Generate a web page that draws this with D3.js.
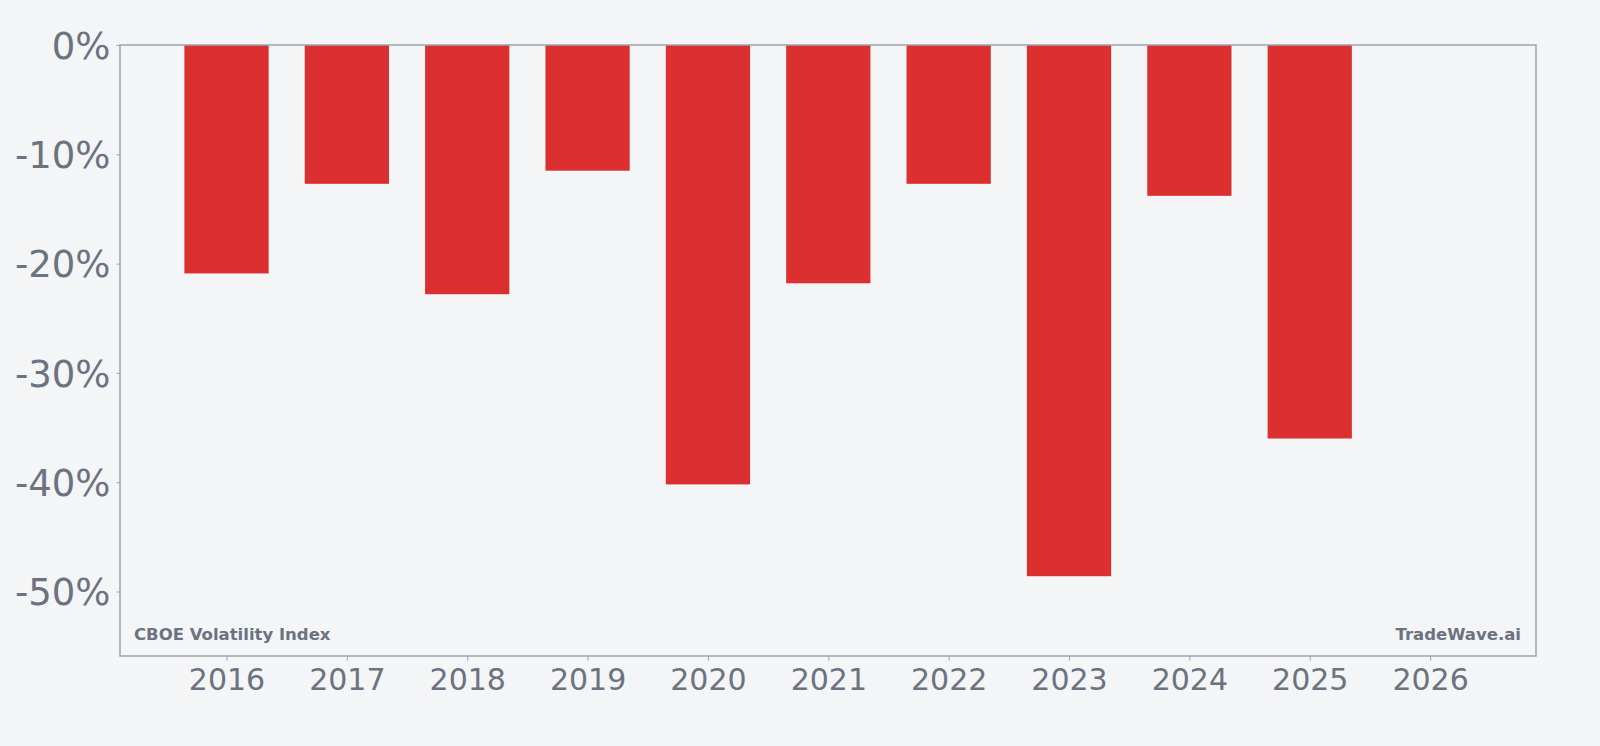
<!DOCTYPE html>
<html>
<head>
<meta charset="utf-8">
<script src="https://cdn.jsdelivr.net/npm/d3@7"></script>
<style>
  body { margin: 0; background: #f4f5f7; }
  svg { display: block; font-family: "DejaVu Sans", sans-serif; }
  .axis text { fill: #6b7280; }
  .axis path, .axis line { stroke: #9ca3af; }
</style>
</head>
<body>
<div class="chartContainer"></div>
<script>
const WIDTH = 1600;
const HEIGHT = 746;
const LEFT = 120, RIGHT = 1536, TOP = 45, BOTTOM = 656;

// yearly values (percent)
var years = [2016, 2017, 2018, 2019, 2020, 2021, 2022, 2023, 2024, 2025];
var values = [-20.9, -12.7, -22.8, -11.5, -40.2, -21.8, -12.7, -48.6, -13.8, -36.0];
var xTicks = [2016, 2017, 2018, 2019, 2020, 2021, 2022, 2023, 2024, 2025, 2026];
var yTicks = [0, -10, -20, -30, -40, -50];

var translate = function(x, y){
  return "translate(" + x + "," + y + ")";
};

var svg = d3.select(".chartContainer")
  .append("svg")
  .attr("width", WIDTH)
  .attr("height", HEIGHT);

svg.append("rect")
  .attr("width", WIDTH).attr("height", HEIGHT)
  .attr("fill", "#f4f5f7");

var xScale = d3.scaleLinear()
  .domain([2015.115, 2026.88])
  .range([LEFT, RIGHT]);

var yScale = d3.scaleLinear()
  .domain([-55.9, 0])
  .range([BOTTOM, TOP]);

// bars
var barW = xScale(2016.7) - xScale(2016);
svg.selectAll(".bar")
  .data(years)
  .enter()
  .append("rect")
  .attr("class", "bar")
  .attr("x", function(d){ return xScale(d) - barW / 2; })
  .attr("width", barW)
  .attr("y", yScale(0))
  .attr("height", function(d, i){ return yScale(values[i]) - yScale(0); })
  .attr("fill", "#dc3030");

// axes
var xAxis = d3.axisBottom(xScale)
  .tickValues(xTicks)
  .tickFormat(d3.format("d"))
  .tickSize(4.5)
  .tickPadding(0);

var yAxis = d3.axisLeft(yScale)
  .tickValues(yTicks)
  .tickFormat(function(d){ return d + "%"; })
  .tickSize(3.5)
  .tickPadding(6);

var gx = svg.append("g")
  .attr("class", "axis")
  .attr("transform", translate(0, BOTTOM))
  .call(xAxis)
  .attr("font-family", "DejaVu Sans");
gx.select(".domain").remove();
gx.selectAll("text").attr("font-size", 30).attr("dy", null).attr("y", 34);

var gy = svg.append("g")
  .attr("class", "axis")
  .attr("transform", translate(LEFT, 0))
  .call(yAxis)
  .attr("font-family", "DejaVu Sans");
gy.select(".domain").remove();
gy.selectAll("text").attr("font-size", 37).attr("dy", "0.36em");

// frame
svg.append("rect")
  .attr("x", LEFT).attr("y", TOP)
  .attr("width", RIGHT - LEFT).attr("height", BOTTOM - TOP)
  .attr("fill", "none")
  .attr("stroke", "#9ca3af")
  .attr("stroke-width", 1.5);

// labels
svg.append("text")
  .attr("x", 134).attr("y", 640)
  .attr("font-size", 16.5).attr("font-weight", "bold")
  .attr("fill", "#6b7280")
  .text("CBOE Volatility Index");

svg.append("text")
  .attr("x", 1521).attr("y", 640)
  .attr("text-anchor", "end")
  .attr("font-size", 16.5).attr("font-weight", "bold")
  .attr("fill", "#6b7280")
  .text("TradeWave.ai");
</script>
</body>
</html>
